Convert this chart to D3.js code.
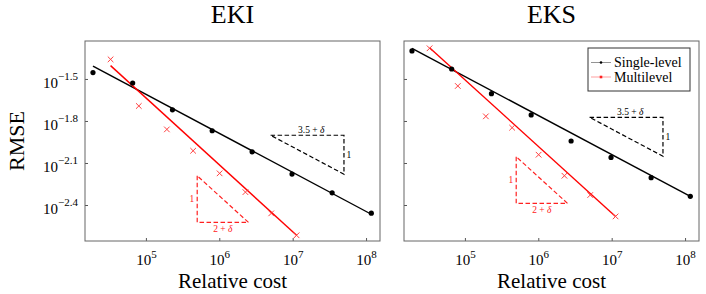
<!DOCTYPE html>
<html>
<head>
<meta charset="utf-8">
<script src="https://cdn.jsdelivr.net/npm/d3@7"></script>
<style>
  body { margin: 0; background: #fff; }
  svg text { font-family: "Liberation Serif", "DejaVu Serif", serif; }
</style>
</head>
<body>
<div id="chart"></div>
<script>
// costs (x) and RMSE values (y)
var costSingle = [1.9e4, 6.6e4, 2.3e5, 8.0e5, 2.8e6, 9.8e6, 3.45e7, 1.18e8];
var costMulti = [3.3e4, 8.0e4, 1.93e5, 4.4e5, 1.01e6, 2.27e6, 5.1e6, 1.13e7];

var ekiSingle = [0.0351, 0.0296, 0.01905, 0.01349, 0.00955, 0.00662, 0.00486, 0.00348];
var ekiMulti = [0.04365, 0.02028, 0.0138, 0.00971, 0.0067, 0.00492, 0.00347, 0.00242];
var eksSingle = [0.05012, 0.03724, 0.02483, 0.0175, 0.0114, 0.00871, 0.00624, 0.00459];
var eksMulti = [0.05236, 0.02818, 0.0171, 0.01419, 0.0091, 0.00644, 0.00469, 0.0033];

// fitted lines: [x0, y0, x1, y1]
var ekiSingleFit = [1.9e4, 0.03908, 1.18e8, 0.00342];
var ekiMultiFit = [3.3e4, 0.03936, 1.13e7, 0.00242];
var eksSingleFit = [1.9e4, 0.05236, 1.18e8, 0.00459];
var eksMultiFit = [3.3e4, 0.05284, 1.13e7, 0.0033];

// slope triangles: [xLeft, xRight, yTop, yBottom]
var ekiSingleTri = [5e6, 5e7, 0.01253, 0.00661];
var ekiMultiTri = [5e5, 2.5e6, 0.00644, 0.00299];
var eksSingleTri = [5e6, 5e7, 0.01683, 0.00887];
var eksMultiTri = [5e5, 2.5e6, 0.00881, 0.00409];

var xTicks = [1e5, 1e6, 1e7, 1e8];
var yTicks = [Math.pow(10, -2.4), Math.pow(10, -2.1), Math.pow(10, -1.8), Math.pow(10, -1.5)];
var yTickLabels = ["\u22122.4", "\u22122.1", "\u22121.8", "\u22121.5"];
var xTickLabels = ["5", "6", "7", "8"];

var W = 706, H = 294;
var plotTop = 41, plotH = 200, plotW = 295;

var svg = d3.select("#chart").append("svg")
    .attr("width", W).attr("height", H);

var y = d3.scaleLog().domain([Math.pow(10, -2.657), Math.pow(10, -1.229)]).range([plotTop + plotH, plotTop]);

function panel(x0, title, single, multi, singleFit, multiFit, singleTri, multiTri, showY, showLegend) {
  var x = d3.scaleLog().domain([Math.pow(10, 4.17), Math.pow(10, 8.19)]).range([x0, x0 + plotW]);

  var g = svg.append("g");

  // clip to plotting area
  var clipId = "clip" + x0;
  g.append("clipPath").attr("id", clipId).append("rect")
    .attr("x", x0).attr("y", plotTop).attr("width", plotW).attr("height", plotH);

  // x axis
  var xa = g.append("g").attr("transform", "translate(0," + (plotTop + plotH) + ")")
    .call(d3.axisBottom(x).tickValues(xTicks).tickSizeInner(-3).tickSizeOuter(0).tickPadding(13));
  xa.select(".domain").remove();
  xa.selectAll("line").attr("stroke", "#555");
  xa.selectAll("text").text(null).attr("font-size", 15).attr("fill", "#000")
    .each(function(d, i) {
      var t = d3.select(this);
      t.append("tspan").text("10");
      t.append("tspan").attr("font-size", 11).attr("dy", -7).text(xTickLabels[i]);
    });

  // y axis
  var ya = g.append("g").attr("transform", "translate(" + x0 + ",0)")
    .call(d3.axisLeft(y).tickValues(yTicks).tickSizeInner(-3).tickSizeOuter(0).tickPadding(7));
  ya.select(".domain").remove();
  ya.selectAll("line").attr("stroke", "#555");
  if (showY) {
    ya.selectAll("text").text(null).attr("font-size", 15).attr("fill", "#000").attr("dy", "0.55em")
      .each(function(d, i) {
        var t = d3.select(this);
        t.append("tspan").text("10");
        t.append("tspan").attr("font-size", 11).attr("dy", -8).text(yTickLabels[i]);
      });
  } else {
    ya.selectAll("text").remove();
  }

  // frame
  g.append("rect").attr("x", x0).attr("y", plotTop).attr("width", plotW).attr("height", plotH)
    .attr("fill", "none").attr("stroke", "#666").attr("stroke-width", 1);

  var plot = g.append("g").attr("clip-path", "url(#" + clipId + ")");

  // fitted lines
  plot.append("line")
    .attr("x1", x(singleFit[0])).attr("y1", y(singleFit[1]))
    .attr("x2", x(singleFit[2])).attr("y2", y(singleFit[3]))
    .attr("stroke", "#000").attr("stroke-width", 1.4);
  plot.append("line")
    .attr("x1", x(multiFit[0])).attr("y1", y(multiFit[1]))
    .attr("x2", x(multiFit[2])).attr("y2", y(multiFit[3]))
    .attr("stroke", "#ff0000").attr("stroke-width", 1.4);

  // single-level dots
  plot.selectAll(".dot").data(single).enter().append("circle")
    .attr("cx", function(d, i) { return x(costSingle[i]); })
    .attr("cy", function(d) { return y(d); })
    .attr("r", 2.6).attr("fill", "#000");

  // multilevel crosses
  var s = 2.8;
  plot.selectAll(".cross").data(multi).enter().append("path")
    .attr("d", function(d, i) {
      var cx = x(costMulti[i]), cy = y(d);
      return "M" + (cx - s) + "," + (cy - s) + "L" + (cx + s) + "," + (cy + s) +
             "M" + (cx - s) + "," + (cy + s) + "L" + (cx + s) + "," + (cy - s);
    })
    .attr("stroke", "#ff4040").attr("stroke-width", 1).attr("fill", "none");

  // black slope triangle (hypotenuse from top-left to bottom-right)
  var tb = singleTri;
  plot.append("path")
    .attr("d", "M" + x(tb[0]) + "," + y(tb[2]) + "L" + x(tb[1]) + "," + y(tb[2]) +
               "L" + x(tb[1]) + "," + y(tb[3]) + "Z")
    .attr("fill", "none").attr("stroke", "#000").attr("stroke-width", 1.2)
    .attr("stroke-dasharray", "4.5,2.5");
  g.append("text").attr("x", (x(tb[0]) + x(tb[1])) / 2 + 4).attr("y", y(tb[2]) - 2.5)
    .attr("text-anchor", "middle").attr("font-size", 9.5).attr("fill", "#000")
    .html("3.5 + <tspan font-style='italic'>\u03b4</tspan>");
  g.append("text").attr("x", x(tb[1]) + 2.5).attr("y", (y(tb[2]) + y(tb[3])) / 2 + 3)
    .attr("font-size", 9.5).attr("fill", "#000").text("1");

  // red slope triangle
  var tr = multiTri;
  plot.append("path")
    .attr("d", "M" + x(tr[0]) + "," + y(tr[2]) + "L" + x(tr[0]) + "," + y(tr[3]) +
               "L" + x(tr[1]) + "," + y(tr[3]) + "Z")
    .attr("fill", "none").attr("stroke", "#ff2020").attr("stroke-width", 1.2)
    .attr("stroke-dasharray", "4.5,2.5");
  g.append("text").attr("x", (x(tr[0]) + x(tr[1])) / 2).attr("y", y(tr[3]) + 9.5)
    .attr("text-anchor", "middle").attr("font-size", 9.5).attr("fill", "#ff2020")
    .html("2 + <tspan font-style='italic'>\u03b4</tspan>");
  g.append("text").attr("x", x(tr[0]) - 3).attr("y", (y(tr[2]) + y(tr[3])) / 2 + 3)
    .attr("text-anchor", "end").attr("font-size", 9.5).attr("fill", "#ff2020").text("1");

  // title and x label
  g.append("text").attr("x", x0 + plotW / 2).attr("y", 23)
    .attr("text-anchor", "middle").attr("font-size", 26).attr("fill", "#000").text(title);
  g.append("text").attr("x", x0 + plotW / 2).attr("y", 288)
    .attr("text-anchor", "middle").attr("font-size", 21).attr("fill", "#000").text("Relative cost");

  if (showLegend) {
    var lx = x0 + plotW - 111, ly = 48;
    var leg = g.append("g");
    leg.append("rect").attr("x", lx).attr("y", ly).attr("width", 102).attr("height", 43)
      .attr("fill", "#fff").attr("stroke", "#333").attr("stroke-width", 1);
    var items = [["Single-level", "#000", 14.5], ["Multilevel", "#ff2020", 29]];
    items.forEach(function(it, i) {
      var yy = ly + it[2];
      leg.append("line").attr("x1", lx + 3).attr("x2", lx + 23).attr("y1", yy).attr("y2", yy)
        .attr("stroke", it[1]).attr("stroke-width", 0.6).attr("opacity", 0.7);
      if (i === 0) {
        leg.append("circle").attr("cx", lx + 13).attr("cy", yy).attr("r", 1.3).attr("fill", "#000");
      } else {
        leg.append("rect").attr("x", lx + 11.7).attr("y", yy - 1.3).attr("width", 2.6).attr("height", 2.6)
          .attr("fill", "#ff2020");
      }
      leg.append("text").attr("x", lx + 26).attr("y", yy + 4.5).attr("font-size", 14)
        .attr("fill", "#000").text(it[0]);
    });
  }
}

panel(85, "EKI", ekiSingle, ekiMulti, ekiSingleFit, ekiMultiFit, ekiSingleTri, ekiMultiTri, true, false);
panel(404, "EKS", eksSingle, eksMulti, eksSingleFit, eksMultiFit, eksSingleTri, eksMultiTri, false, true);

// y axis label
svg.append("text").attr("transform", "translate(24," + (plotTop + plotH / 2) + ") rotate(-90)")
  .attr("text-anchor", "middle").attr("font-size", 22).attr("fill", "#000").text("RMSE");
</script>
</body>
</html>
